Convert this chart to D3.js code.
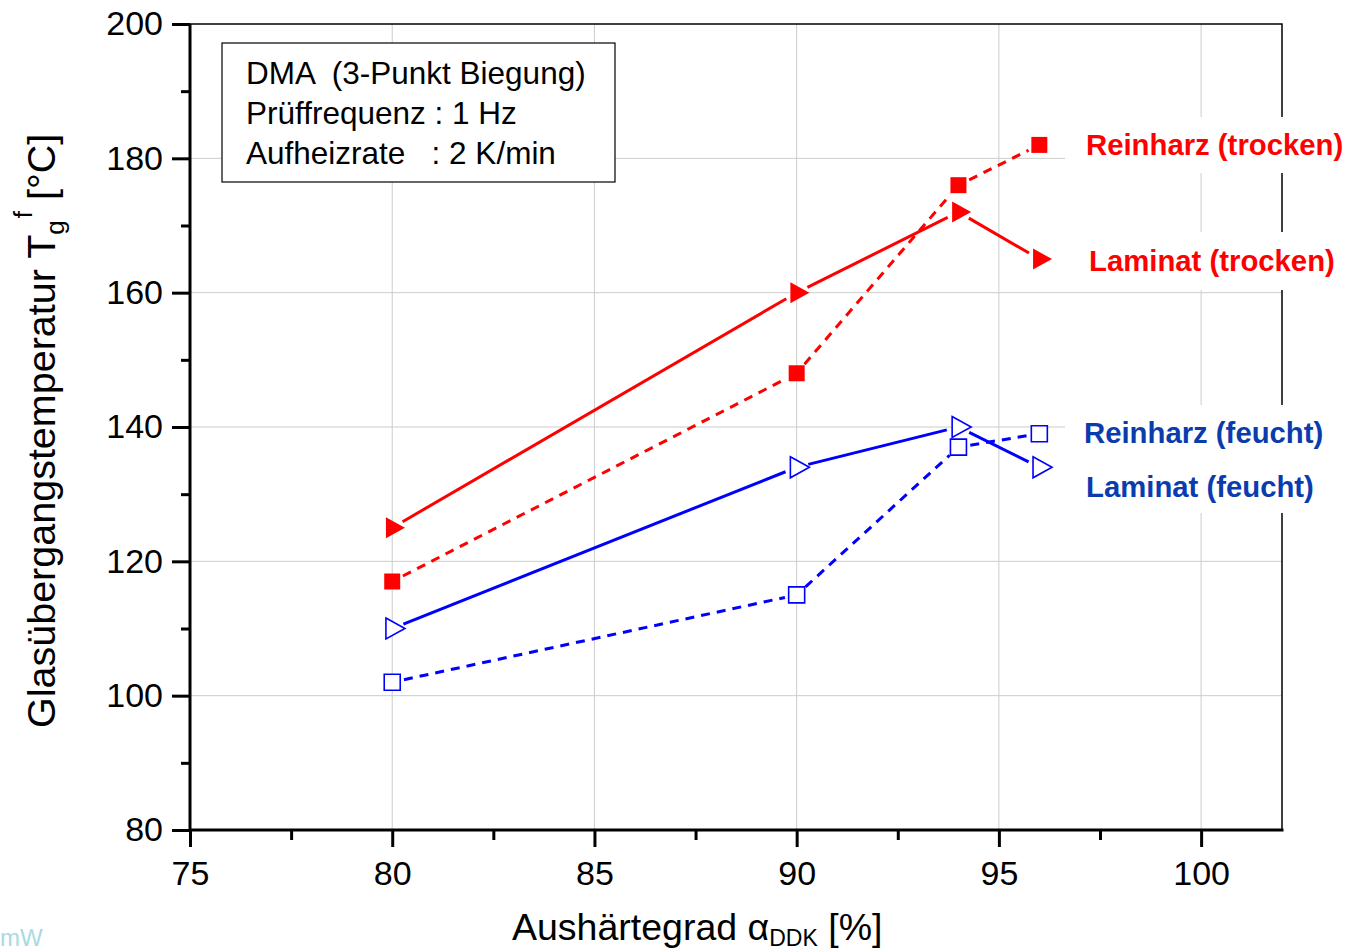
<!DOCTYPE html>
<html>
<head>
<meta charset="utf-8">
<script src="https://cdn.jsdelivr.net/npm/d3@7"></script>
<style>
  body { margin: 0; background: #fff; }
  text { font-family: "Liberation Sans", Arial, sans-serif; }
</style>
</head>
<body>
<script>
// data
var aushaertegrad = [80, 90, 94, 96];
var reinharzTrocken = [117, 148, 176, 182];
var laminatTrocken = [125, 160, 172, 165];
var reinharzFeucht = [102, 115, 137, 139];
var laminatFeucht = [110, 134, 140, 134];
var xTicks = [75, 80, 85, 90, 95, 100];
var yTicks = [80, 100, 120, 140, 160, 180, 200];
var infoLines = ["DMA  (3-Punkt Biegung)", "Prüffrequenz : 1 Hz", "Aufheizrate   : 2 K/min"];

var width = 1346, height = 952;
var red = "#ff0000", blue = "#0000ff", labelBlue = "#0b3cae";

var svg = d3.select("body").append("svg")
  .attr("width", width)
  .attr("height", height);

var x = d3.scaleLinear().domain([75, 102]).range([190, 1282]);
var y = d3.scaleLinear().domain([80, 200]).range([830, 24]);

// grid
var grid = svg.append("g").attr("stroke", "#cccccc").attr("stroke-width", 1);
grid.selectAll(".gx").data(xTicks.slice(1)).enter().append("line")
  .attr("x1", d => x(d)).attr("x2", d => x(d))
  .attr("y1", y(200)).attr("y2", y(80));
grid.selectAll(".gy").data(yTicks.slice(1, -1)).enter().append("line")
  .attr("x1", x(75)).attr("x2", x(102))
  .attr("y1", d => y(d)).attr("y2", d => y(d));

// frame top/right
svg.append("path")
  .attr("d", "M" + x(75) + "," + y(200) + "H" + x(102) + "V" + y(80))
  .attr("fill", "none").attr("stroke", "#000").attr("stroke-width", 1.5);

// series
var series = [
  {vals: reinharzTrocken, color: red, dash: "9,7", shape: "square", filled: true},
  {vals: laminatTrocken, color: red, dash: null, shape: "tri", filled: true},
  {vals: reinharzFeucht, color: blue, dash: "9,7", shape: "square", filled: false},
  {vals: laminatFeucht, color: blue, dash: null, shape: "tri", filled: false}
];

var gap = 12;
series.forEach(function (s) {
  var pts = aushaertegrad.map((a, i) => [x(a), y(s.vals[i])]);
  var segs = [];
  for (var i = 0; i < pts.length - 1; i++) {
    var p = pts[i], q = pts[i + 1];
    var dx = q[0] - p[0], dy = q[1] - p[1], len = Math.sqrt(dx * dx + dy * dy);
    var ux = dx / len, uy = dy / len;
    segs.push([p[0] + ux * gap, p[1] + uy * gap, q[0] - ux * gap, q[1] - uy * gap]);
  }
  svg.append("g").selectAll("line").data(segs).enter().append("line")
    .attr("x1", d => d[0]).attr("y1", d => d[1])
    .attr("x2", d => d[2]).attr("y2", d => d[3])
    .attr("stroke", s.color)
    .attr("stroke-width", 3)
    .attr("stroke-dasharray", s.dash);

  svg.append("g").selectAll("path").data(pts).enter().append("path")
    .attr("transform", d => "translate(" + d[0] + "," + d[1] + ")")
    .attr("d", s.shape == "square" ? "M-8,-8H8V8H-8Z" : "M-6.3,-10.5L12.7,0L-6.3,10.5Z")
    .attr("fill", s.filled ? s.color : "#fff")
    .attr("stroke", s.color)
    .attr("stroke-width", s.filled ? 0 : 1.6);
});

// axes
var yAxis = svg.append("g").attr("transform", "translate(" + x(75) + ",0)")
  .call(d3.axisLeft(y).tickValues(yTicks).tickSize(18).tickPadding(9).tickFormat(d3.format("d")));
var yMinor = svg.append("g").attr("transform", "translate(" + x(75) + ",0)")
  .call(d3.axisLeft(y).tickValues([90, 110, 130, 150, 170, 190]).tickSize(9).tickFormat(""));
var xAxis = svg.append("g").attr("transform", "translate(0," + y(80) + ")")
  .call(d3.axisBottom(x).tickValues(xTicks).tickSize(17).tickPadding(14).tickFormat(d3.format("d")));
var xMinor = svg.append("g").attr("transform", "translate(0," + y(80) + ")")
  .call(d3.axisBottom(x).tickValues([77.5, 82.5, 87.5, 92.5, 97.5]).tickSize(10).tickFormat(""));

[yAxis, yMinor, xAxis, xMinor].forEach(function (g) {
  g.select(".domain").attr("stroke", "#000").attr("stroke-width", 3);
  g.selectAll(".tick line").attr("stroke", "#000").attr("stroke-width", 3);
  g.selectAll(".tick text").attr("font-size", 34).attr("fill", "#000")
    .attr("font-family", "Liberation Sans, Arial, sans-serif");
});
xAxis.select(".domain").attr("d", "M" + x(75) + ",0H" + (x(102) + 1.5));
yAxis.select(".domain").attr("d", "M0," + (y(80) + 1.5) + "V" + y(200));
yMinor.select(".domain").remove();
xMinor.select(".domain").remove();

// info box
var box = svg.append("g");
box.append("rect").attr("x", 222).attr("y", 43).attr("width", 393).attr("height", 139)
  .attr("fill", "#fff").attr("stroke", "#000").attr("stroke-width", 1.2);
box.selectAll("text").data(infoLines).enter().append("text")
  .attr("x", 246).attr("y", (d, i) => 84 + i * 40)
  .attr("font-size", 31.5).attr("xml:space", "preserve").style("white-space", "pre")
  .text(d => d);

// series labels with white backgrounds
var labels = [
  {text: "Reinharz (trocken)", x: 1086, y: 155, color: red, top: 117, bottom: 173},
  {text: "Laminat (trocken)", x: 1089, y: 271, color: red, top: 232, bottom: 290},
  {text: "Reinharz (feucht)", x: 1084, y: 443, color: labelBlue, top: 405, bottom: 460},
  {text: "Laminat (feucht)", x: 1086, y: 497, color: labelBlue, top: 460, bottom: 513}
];
labels.forEach(function (l) {
  svg.append("rect").attr("x", 1065).attr("y", l.top).attr("width", width - 1065)
    .attr("height", l.bottom - l.top).attr("fill", "#fff");
  svg.append("text").attr("x", l.x).attr("y", l.y)
    .attr("font-size", 29.3).attr("font-weight", "bold").attr("fill", l.color)
    .text(l.text);
});

// axis titles
var yt = svg.append("text")
  .attr("transform", "translate(55," + 728 + ") rotate(-90)")
  .attr("font-size", 39.5).attr("fill", "#000");
yt.append("tspan").text("Glasübergangstemperatur T");
yt.append("tspan").attr("font-size", 26).attr("dy", 9).text("g");
yt.append("tspan").attr("font-size", 26).attr("dy", -32).attr("dx", 2).text("f");
yt.append("tspan").attr("dy", 23).text(" [°C]");

var xt = svg.append("text")
  .attr("x", 512).attr("y", 940)
  .attr("font-size", 37.5).attr("fill", "#000");
xt.append("tspan").text("Aushärtegrad α");
xt.append("tspan").attr("font-size", 23).attr("dy", 6).text("DDK");
xt.append("tspan").attr("dy", -6).text(" [%]");

svg.append("text").attr("x", 0).attr("y", 946)
  .attr("font-size", 24).attr("fill", "#a9dbe3").text("mW");
</script>
</body>
</html>
